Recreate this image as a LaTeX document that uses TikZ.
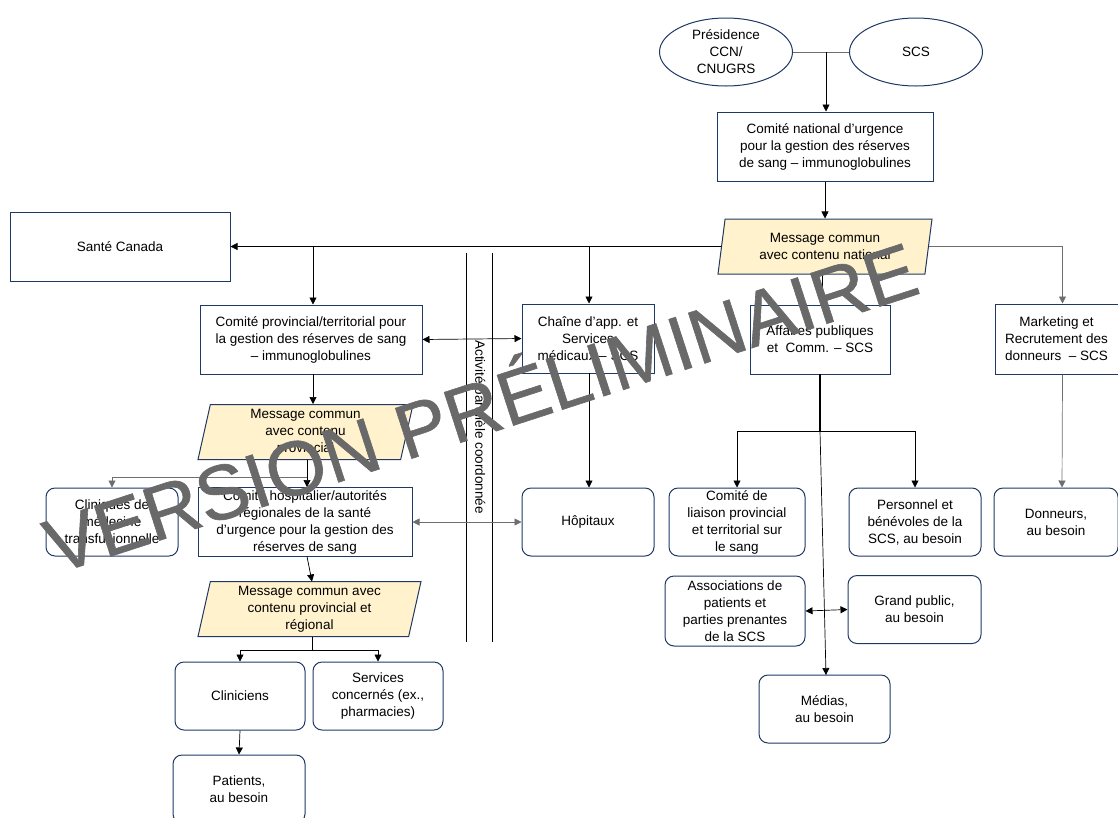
\documentclass[tikz,border=0pt]{standalone}
\usepackage{fontspec}
\setmainfont{Liberation Sans}
\newfontfamily\wmfont{Liberation Sans}[FakeBold=0.8]
\usetikzlibrary{shapes.geometric,arrows.meta,calc}
\definecolor{navy}{RGB}{31,56,100}
\definecolor{msgfill}{RGB}{255,242,204}
\definecolor{wm}{RGB}{105,105,105}
\definecolor{lgray}{RGB}{110,110,110}
\begin{document}
\begin{tikzpicture}[x=1pt,y=-1pt,
  every node/.style={font=\fontsize{13.5}{17}\selectfont, align=center, inner sep=0pt},
  box/.style={draw=navy, line width=1pt, fill=white, minimum width=#1},
  box/.default=132,
  rbox/.style={box=#1, rounded corners=9pt, minimum height=68},
  rbox/.default=132,
  msg/.style={trapezium, trapezium left angle=75, trapezium right angle=105, trapezium stretches body, draw=navy, line width=1pt, fill=msgfill, minimum width=200, minimum height=55},
  ell/.style={ellipse, draw=navy, line width=1pt, fill=white, minimum width=133, minimum height=68},
  arr/.style={-{Triangle[length=7pt,width=7pt]}, line width=0.7pt},
  darr/.style={{Triangle[length=7pt,width=7pt]}-{Triangle[length=7pt,width=7pt]}, line width=0.7pt},
  ln/.style={line width=0.7pt},
]
\useasboundingbox (0,0) rectangle (1118,817);

% parallel activity lines
\draw[ln] (466,253) coordinate (pa1) -- (466,642) coordinate (pa2);
\draw[ln] (492,253) coordinate (pb1) -- (492,642) coordinate (pb2);
\node[rotate=-90] (par) at (479,427) {Activité parallèle coordonnée};

% nodes
\node[ell] (pres) at (726,52) {Présidence\\CCN/\\CNUGRS};
\node[ell] (scs) at (916,52) {SCS};
\node[box=216, minimum height=69] (cnu) at (825,146.5) {Comité national d’urgence\\pour la gestion des réserves\\de sang – immunoglobulines};
\node[msg, minimum width=214] (msgN) at (825,246.5) {Message commun\\avec contenu national};
\node[box=220, minimum height=69] (sc) at (120,246.5) {Santé Canada};
\node[box=222, minimum height=69] (cp) at (311,339.5) {Comité provincial/territorial pour\\la gestion des réserves de sang\\– immunoglobulines};
\node[box=132, minimum height=69] (ch) at (588,338.5) {Chaîne d’app. et\\Services\\médicaux – SCS};
\node[box=140, minimum height=69] (ap) at (820,339.5) {Affaires publiques\\et\ \ Comm. – SCS};
\node[box=123, minimum height=70] (mk) at (1056.5,339) {Marketing et\\Recrutement des\\donneurs\ \ – SCS};

\node[msg, minimum width=215] (msgP) at (305.5,432) {Message commun\\avec contenu\\provincial};

\node[rbox=132] (cli) at (112,522) {Cliniques de\\médecine\\transfusionnelle};
\node[box=214, minimum height=69] (chosp) at (305,522) {Comité hospitalier/autorités\\régionales de la santé\\d’urgence pour la gestion des\\réserves de sang};
\node[rbox=132] (hop) at (588,522) {Hôpitaux};
\node[rbox=136] (lia) at (737,522) {Comité de\\liaison provincial\\et territorial sur\\le sang};
\node[rbox=132] (pers) at (915,522) {Personnel et\\bénévoles de la\\SCS, au besoin};
\node[rbox=124] (don) at (1056,522) {Donneurs,\\au besoin};

\node[rbox=140, minimum height=70] (asso) at (735,611) {Associations de\\patients et\\parties prenantes\\de la SCS};
\node[rbox=133, minimum height=68] (gp) at (914.5,609.5) {Grand public,\\au besoin};
\node[rbox=131] (med) at (824.5,709) {Médias,\\au besoin};

\node[msg, minimum width=223] (msgR) at (309.5,609) {Message commun avec\\contenu provincial et\\régional};

\node[rbox=130] (clin) at (240,696) {Cliniciens};
\node[rbox=130] (serv) at (378,696) {Services\\concernés (ex.,\\pharmacies)};
\node[rbox=132] (pat) at (239,789) {Patients,\\au besoin};

% connectors
\draw[ln, lgray] (pres.east) -- (scs.west);
\coordinate (j0) at (826,52);
\draw[arr] (j0) -- (j0 |- cnu.north);
\draw[arr] (cnu.south) -- (cnu.south |- msgN.north);
\draw[arr] (msgN.west) -- (sc.east);
\draw[arr] (313,246.5) coordinate (jcp) -- (jcp |- cp.north);
\draw[arr] (589,246.5) coordinate (jch) -- (jch |- ch.north);
\draw[arr] (822,274) coordinate (jap) -- (jap |- ap.north);
\draw[arr, lgray] (msgN.east) -| ([xshift=6]mk.north);

\draw[darr] (cp.east) -- (ch.west);
\draw[arr] (313,374) coordinate (jcp2) -- (jcp2 |- msgP.north);
\draw[arr] (307,459.5) coordinate (jp) -- (jp |- chosp.north);
\draw[arr, lgray] (307,477) coordinate (jcl) -| (cli.north);
\draw[darr, lgray] (chosp.east) -- (hop.west);
\draw[arr] (589,373) coordinate (jh) -- (jh |- hop.north);
\draw[arr] (307,556.5) coordinate (jr) -- (312,581.5) coordinate (jr2);
\draw[ln] (312,636.5) coordinate (jr3) -- (312,650) coordinate (jr4);
\draw[arr] (jr4) -| (clin.north);
\draw[arr] (jr4) -| (serv.north);
\draw[arr] (clin.south) -- (pat.north);

\draw[line width=1.3pt] (820,374) coordinate (ja) -- (820,431) coordinate (jb);
\draw[arr] (jb) -| (lia.north);
\draw[arr] (jb) -| (pers.north);
\draw[arr] (jb) -- (826,675) coordinate (jm);
\draw[darr] (asso.east) -- (gp.west);
\draw[arr, lgray] ([xshift=6]mk.south) -- ([xshift=6]don.north);

% watermark
\node[rotate=18, text=wm, font=\wmfont\fontsize{77}{77}\selectfont] (wmk) at (479,402) {VERSION PRÉLIMINAIRE};
\end{tikzpicture}
\end{document}
